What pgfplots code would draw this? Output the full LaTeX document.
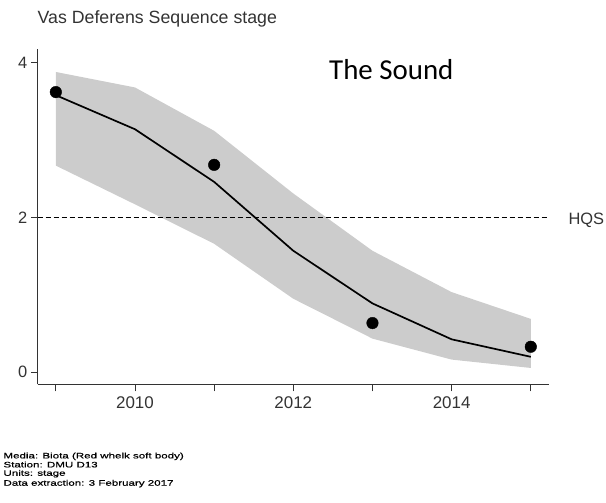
\documentclass[border=0pt]{standalone}
\usepackage{fontspec}
\setmainfont{Liberation Sans}
\newfontfamily\calib{Carlito}
\newfontfamily\footfont[FakeStretch=1.45,FakeBold=0.6]{Liberation Sans}
\usepackage{pgfplots}
\pgfplotsset{compat=1.18}
\definecolor{band}{RGB}{204,204,204}
\definecolor{txt}{RGB}{51,51,51}
\begin{document}
\begin{tikzpicture}[x=1bp,y=1bp]
\useasboundingbox (0,0) rectangle (606,503);
\begin{axis}[
  at={(37.7bp,118.7bp)}, anchor=south west, scale only axis,
  width=511.3bp, height=335.3bp,
  xmin=2008.771, xmax=2015.23, ymin=-0.155, ymax=4.177,
  axis x line*=bottom, axis y line*=left,
  xtick={2010,2012,2014}, minor xtick={2009,2011,2013,2015}, ytick={0,2,4},
  tick align=outside, major tick length=7bp, minor tick length=7bp,
  every tick/.style={black!80, line width=0.8bp},
  minor tick style={black!80, line width=0.8bp},
  axis line style={black!80, line width=1bp},
  /pgf/number format/assume math mode=true,
  /pgf/number format/1000 sep={},
  xticklabel style={font=\fontsize{17}{18}\selectfont, text=txt, yshift=-2bp},
  yticklabel style={font=\fontsize{16.5}{18}\selectfont, text=txt},
  clip=false,
]
\addplot[fill=band, draw=none] coordinates {
  (2009,3.88) (2010,3.68) (2011,3.12) (2012,2.31) (2013,1.57) (2014,1.036) (2015,0.69)
  (2015,0.056) (2014,0.164) (2013,0.435) (2012,0.95) (2011,1.66) (2010,2.17) (2009,2.67)
} -- cycle;
\addplot[black, line width=0.8bp, dash pattern=on 5bp off 3bp] coordinates {(2008.771,2) (2015.23,2)};
\addplot[black, line width=1.7bp] coordinates {
  (2009,3.58) (2010,3.14) (2011,2.46) (2012,1.57) (2013,0.89) (2014,0.426) (2015,0.20)
};
\addplot[only marks, mark=*, mark size=5.8bp, black] coordinates {
  (2009,3.62) (2011,2.68) (2013,0.636) (2015,0.33)
};
\end{axis}
\node[anchor=base west, inner sep=0, text=txt, font=\fontsize{17.8}{20}\selectfont] at (37.5,479.7) {Vas Deferens Sequence stage};
\node[anchor=base west, inner sep=0, font=\calib\fontsize{29}{32}\selectfont] at (329,423.7) {The Sound};
\node[anchor=base west, inner sep=0, text=txt, font=\fontsize{16.5}{18}\selectfont] at (568.3,278) {HQS};
\node[anchor=base west, inner sep=0, font=\footfont\fontsize{8}{8}\selectfont] at (3.3,44.6) {Media: Biota (Red whelk soft body)};
\node[anchor=base west, inner sep=0, font=\footfont\fontsize{8}{8}\selectfont] at (3.3,35.6) {Station: DMU D13};
\node[anchor=base west, inner sep=0, font=\footfont\fontsize{8}{8}\selectfont] at (3.3,27.2) {Units: stage};
\node[anchor=base west, inner sep=0, font=\footfont\fontsize{8}{8}\selectfont] at (3.3,17.3) {Data extraction: 3 February 2017};
\end{tikzpicture}
\end{document}
